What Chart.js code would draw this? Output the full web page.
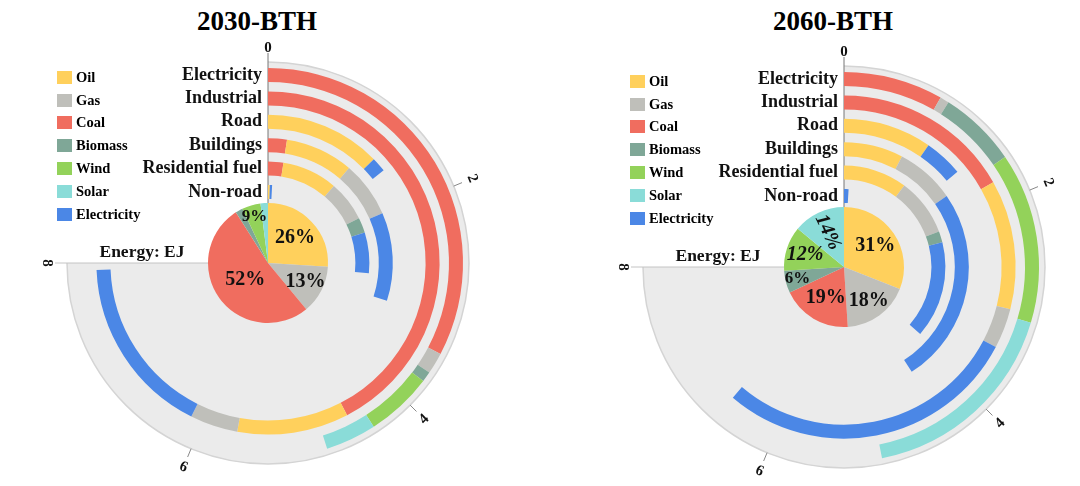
<!DOCTYPE html>
<html>
<head>
<meta charset="utf-8">
<script src="https://cdn.jsdelivr.net/npm/chart.js@4.4.1/dist/chart.umd.min.js"></script>
<style>
  html, body { margin: 0; padding: 0; background: #fff; overflow: hidden; }
  body { width: 1080px; height: 486px; position: relative; font-family: "Liberation Serif", "DejaVu Serif", serif; }
  .abs { position: absolute; }
  .title { position: absolute; width: 200px; text-align: center; font-weight: bold; font-size: 27px; line-height: 30px; }
  .legend { position: absolute; font-weight: bold; font-size: 14.5px; }
  .legend div { height: 22.8px; display: flex; align-items: center; }
  .legend span { display: inline-block; width: 15px; height: 13px; margin-right: 4px; }
</style>
</head>
<body>
<div class="title" style="left:157px;top:6px">2030-BTH</div>
<div class="title" style="left:733px;top:6px">2060-BTH</div>
<canvas id="ring2030" class="abs" width="480" height="480" style="left:28px;top:23px"></canvas>
<canvas id="ring2060" class="abs" width="480" height="480" style="left:604px;top:27px"></canvas>
<canvas id="pieA" class="abs" width="140" height="140" style="left:198px;top:193px"></canvas>
<canvas id="pieB" class="abs" width="140" height="140" style="left:774px;top:197px"></canvas>
<div id="legA" class="legend" style="left:57px;top:66px"></div>
<div id="legB" class="legend" style="left:630px;top:70px"></div>
<script>
// stacking order inside every ring
const fuels = ["Coal", "Oil", "Gas", "Biomass", "Wind", "Solar", "Electricity"];
const fuelColors = ["#f06d5f", "#ffd05c", "#bfbfba", "#7fa797", "#93d25a", "#8adcd8", "#4b87e6"];
const legendOrder = ["Oil", "Gas", "Coal", "Biomass", "Wind", "Solar", "Electricity"];
const sectors = ["Electricity", "Industrial", "Road", "Buildings", "Residential fuel", "Non-road"];
const tickValues = [0, 2, 4, 6, 8];
const maxEJ = 8;

// 2030 energy use, EJ (coal, oil, gas, biomass, wind, solar, electricity)
const elec2030 = [3.49, 0, 0.19, 0.09, 0.59, 0.45, 0];
const ind2030 = [4.52, 1.12, 0.48, 0, 0, 0, 1.81];
const road2030 = [0, 1.35, 0, 0, 0, 0, 0.17];
const bld2030 = [0.26, 0.94, 0.77, 0, 0, 0, 1.22];
const res2030 = [0.26, 0.94, 0.69, 0.26, 0, 0, 0.69];
const nonroad2030 = [0, 0.04, 0, 0, 0, 0, 0.05];

// 2060 energy use, EJ
const elec2060 = [0.88, 0, 0.08, 0.69, 1.51, 1.84, 0];
const ind2060 = [1.79, 1.30, 0.40, 0, 0, 0, 3.04];
const road2060 = [0, 1.03, 0, 0, 0, 0, 0.45];
const bld2060 = [0, 0.82, 0.82, 0, 0, 0, 2.72];
const res2060 = [0, 1.08, 0.98, 0.19, 0, 0, 1.64];
const nonroad2060 = [0, 0, 0, 0, 0, 0, 0.10];

// primary energy shares, %
const pieFuels = ["Oil", "Gas", "Coal", "Biomass", "Wind", "Solar"];
const pie2030 = [26, 13, 52, 2, 5, 2];
const pieText2030 = ["26%", "13%", "52%", "", "9%", ""];
const pie2060 = [31, 18, 19, 6, 12, 14];
const pieText2060 = ["31%", "18%", "19%", "6%", "12%", "14%"];

const colorOf = (f) => fuelColors[fuels.indexOf(f)];
const NONE = "rgba(0,0,0,0)";
const RING = 14, GAP = 9.4, EDGE = 6, CORE = 64;

function ringData(vals) {
  const used = vals.reduce((a, b) => a + b, 0);
  return vals.concat([maxEJ - used]);
}

function blank(w) {
  return { data: ringData(fuels.map(() => 0)), backgroundColor: NONE, weight: w,
           borderWidth: 0, hoverOffset: 0, offset: 0 };
}

function makeDatasets(rings) {
  const ds = [blank(EDGE)];
  rings.forEach((r, i) => {
    ds.push({ label: sectors[i], data: ringData(r), backgroundColor: fuelColors.concat([NONE]),
              weight: RING, borderWidth: 0, hoverOffset: 0, offset: 0 });
    if (i < rings.length - 1) ds.push(blank(GAP));
  });
  ds.push(blank(CORE));
  return ds;
}

const radialAxis = {
  id: "radialAxis",
  beforeDatasetsDraw(chart) {
    const ctx = chart.ctx;
    const arc = chart.getDatasetMeta(0).data[0];
    const R = chart.getDatasetMeta(0).controller.outerRadius;
    const x = arc.x, y = arc.y;
    const a0 = -Math.PI / 2, a1 = a0 + 1.5 * Math.PI;
    ctx.save();
    ctx.beginPath();
    ctx.moveTo(x, y);
    ctx.arc(x, y, R, a0, a1);
    ctx.closePath();
    ctx.fillStyle = "#ebebeb";
    ctx.fill();
    ctx.beginPath();
    ctx.arc(x, y, R, a0, a1);
    ctx.strokeStyle = "#d4d4d4";
    ctx.lineWidth = 1.5;
    ctx.stroke();
    ctx.lineWidth = 1;
    ctx.strokeStyle = "#777";
    ctx.beginPath();
    ctx.moveTo(x, y - R - 9);
    ctx.lineTo(x, y);
    ctx.stroke();
    ctx.strokeStyle = "#c4c4c4";
    ctx.beginPath();
    ctx.moveTo(x - R - 12, y);
    ctx.lineTo(x, y);
    ctx.stroke();
    ctx.restore();
  },
  afterDatasetsDraw(chart) {
    const ctx = chart.ctx;
    const arc = chart.getDatasetMeta(0).data[0];
    const R = chart.getDatasetMeta(0).controller.outerRadius;
    const x = arc.x, y = arc.y;
    ctx.save();
    ctx.fillStyle = "#111";
    ctx.strokeStyle = "#888";
    ctx.lineWidth = 1;
    ctx.font = "bold 15px 'Liberation Serif'";
    ctx.textAlign = "center";
    ctx.textBaseline = "middle";
    tickValues.forEach((t) => {
      const deg = (t / maxEJ) * 270;
      const ang = -Math.PI / 2 + (deg * Math.PI) / 180;
      if (t > 0 && t < maxEJ) {
        ctx.beginPath();
        ctx.moveTo(x + R * Math.cos(ang), y + R * Math.sin(ang));
        ctx.lineTo(x + (R + 9) * Math.cos(ang), y + (R + 9) * Math.sin(ang));
        ctx.stroke();
      }
      const lr = t === 0 ? R + 14 : R + 20;
      const rot = deg > 90 ? deg - 180 : deg;
      ctx.save();
      ctx.translate(x + lr * Math.cos(ang), y + lr * Math.sin(ang));
      ctx.rotate((rot * Math.PI) / 180);
      ctx.fillText(String(t), 0, 0);
      ctx.restore();
    });
    ctx.font = "bold 18px 'Liberation Serif'";
    ctx.textAlign = "right";
    sectors.forEach((s, i) => {
      const c = chart.getDatasetMeta(1 + 2 * i).controller;
      const mid = (c.outerRadius + c.innerRadius) / 2;
      ctx.fillText(s, x - 6, y - mid);
    });
    ctx.font = "bold 17.5px 'Liberation Serif'";
    ctx.textAlign = "center";
    ctx.fillText("Energy: EJ", x - 126, y - 11);
    ctx.restore();
  }
};

const pieLabels = {
  id: "pieLabels",
  afterDatasetsDraw(chart, args, opts) {
    const ctx = chart.ctx;
    chart.getDatasetMeta(0).data.forEach((arc, i) => {
      const text = opts.text[i];
      if (!text) return;
      const st = opts.style[i] || {};
      const mid = (arc.startAngle + arc.endAngle) / 2;
      const r = arc.outerRadius * (st.dist || 0.65);
      ctx.save();
      ctx.translate(arc.x + r * Math.cos(mid), arc.y + r * Math.sin(mid));
      ctx.rotate(((st.rot || 0) * Math.PI) / 180);
      ctx.font = (st.italic ? "italic " : "") + "bold " + (st.size || 20) + "px 'Liberation Serif'";
      ctx.fillStyle = "#111";
      ctx.textAlign = "center";
      ctx.textBaseline = "middle";
      ctx.fillText(text, 0, 0);
      ctx.restore();
    });
  }
};

function ringChart(id, rings) {
  return new Chart(document.getElementById(id), {
    type: "doughnut",
    data: { labels: fuels.concat(["rest"]), datasets: makeDatasets(rings) },
    options: {
      responsive: false,
      animation: false,
      events: [],
      rotation: 0,
      circumference: 270,
      cutout: 0,
      layout: { padding: 39 },
      plugins: { legend: { display: false }, tooltip: { enabled: false } },
    },
    plugins: [radialAxis],
  });
}

function pieChart(id, vals, text, style) {
  return new Chart(document.getElementById(id), {
    type: "pie",
    data: {
      labels: pieFuels,
      datasets: [{ data: vals, backgroundColor: pieFuels.map(colorOf), borderWidth: 0, hoverOffset: 0, offset: 0 }],
    },
    options: {
      responsive: false,
      animation: false,
      events: [],
      rotation: 0,
      layout: { padding: 10 },
      plugins: {
        legend: { display: false },
        tooltip: { enabled: false },
        pieLabels: { text: text, style: style },
      },
    },
    plugins: [pieLabels],
  });
}

function legend(id) {
  const el = document.getElementById(id);
  legendOrder.forEach((f) => {
    const row = document.createElement("div");
    const sw = document.createElement("span");
    sw.style.background = colorOf(f);
    row.appendChild(sw);
    row.appendChild(document.createTextNode(f));
    el.appendChild(row);
  });
}

ringChart("ring2030", [elec2030, ind2030, road2030, bld2030, res2030, nonroad2030]);
ringChart("ring2060", [elec2060, ind2060, road2060, bld2060, res2060, nonroad2060]);

pieChart("pieA", pie2030, pieText2030, [
  { dist: 0.62 }, { dist: 0.7 }, { dist: 0.47 }, {}, { dist: 0.8, size: 17 }, {},
]);
pieChart("pieB", pie2060, pieText2060, [
  { dist: 0.63 }, { dist: 0.7 }, { dist: 0.6 }, { dist: 0.8, size: 17 },
  { dist: 0.68, italic: true }, { dist: 0.64, italic: true, rot: 65 },
]);

legend("legA");
legend("legB");
</script>
</body>
</html>
